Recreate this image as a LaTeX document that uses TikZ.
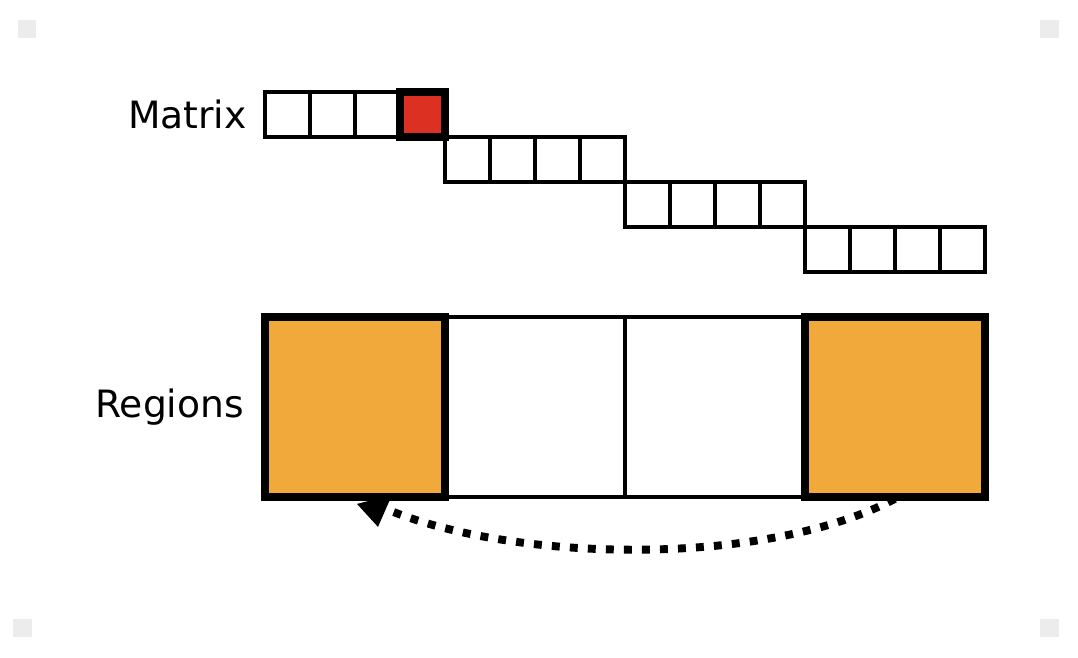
\documentclass[tikz,border=0pt]{standalone}
\usepackage{fontspec}
\setmainfont{DejaVu Sans}
\usepackage{xcolor}
\usepackage{tikz}
\usetikzlibrary{positioning,calc}

\definecolor{cellred}{HTML}{DC3023}
\definecolor{regorange}{HTML}{F2A93B}
\definecolor{cornergrey}{HTML}{ECECEC}

\tikzset{
    cell/.style={draw, line width=2.4pt, minimum size=1cm, inner sep=0pt},
    region/.style={draw, line width=2.4pt, minimum width=4cm, minimum height=4cm, inner sep=0pt},
    picked/.style={line width=5pt},
    rowlabel/.style={inner sep=0pt, font=\fontsize{23.8}{28}\selectfont},
    corner/.style={fill=cornergrey}
}

\begin{document}
\begin{tikzpicture}
    \useasboundingbox (0,0) rectangle (23.956,-14.622);

    % Corner marks
    \fill[corner] (0.4,-0.444) rectangle (0.8,-0.844);
    \fill[corner] (23.11,-0.444) rectangle (23.53,-0.844);
    \fill[corner] (0.289,-13.756) rectangle (0.711,-14.156);
    \fill[corner] (23.11,-13.756) rectangle (23.53,-14.156);

    % Matrix
    \foreach \r in {0,...,3}
        \foreach \i in {0,...,3}
            \node[cell] (m-\r-\i) at (6.389+4*\r+\i, -2.544-\r) {};
    \node[cell, picked, fill=cellred] at (m-0-3) {};
    \node[rowlabel, left=0.36cm of m-0-0] (mlabel) {Matrix};

    % Regions
    \foreach \k in {0,...,3}
        \node[region] (reg\k) at (7.889+4*\k, -9.044) {};
    \node[region, picked, fill=regorange] at (reg0) {};
    \node[region, picked, fill=regorange] at (reg3) {};
    \node[rowlabel, left=0.42cm of reg0] (rlabel) {Regions};

    % Swap
    \coordinate (head) at ($(reg0.south)+(0.75,-0.25)$);
    \draw[line width=5pt, dash pattern=on 5pt off 6.4pt]
        (reg3.south) .. controls (17,-12.6) and (11.5,-12.5) .. (head);
    \fill ($(reg0.south)+(0.044,-0.112)$) -- ($(reg0.south)+(0.822,0.088)$)
        -- ($(reg0.south)+(0.511,-0.623)$) -- cycle;
\end{tikzpicture}
\end{document}
